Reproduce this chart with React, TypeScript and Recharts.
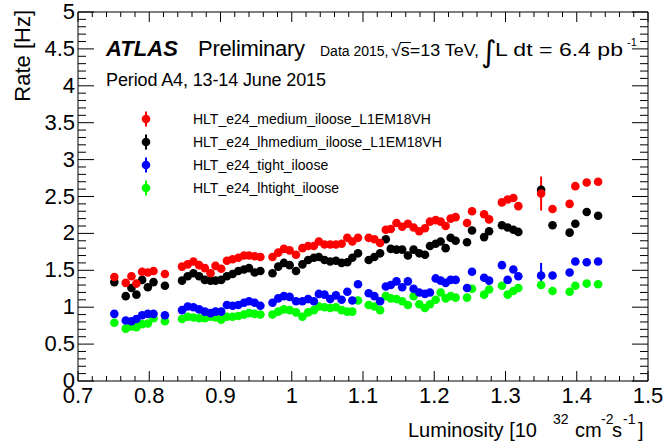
import React from 'react';
import { ScatterChart, Scatter, XAxis, YAxis, ErrorBar } from 'recharts';

// luminosity blocks [10^32 cm^-2 s^-1], shared by all triggers
const lumi = [
  0.751, 0.767, 0.775, 0.782, 0.790, 0.798, 0.806, 0.822,
  0.846, 0.854, 0.862, 0.870, 0.878, 0.886, 0.893, 0.901, 0.909, 0.917, 0.925, 0.933, 0.940, 0.948, 0.956,
  0.973, 0.981, 0.989, 0.997, 1.006, 1.015, 1.023, 1.031, 1.038, 1.046, 1.054, 1.062, 1.070, 1.078, 1.085, 1.093,
  1.108, 1.116, 1.124, 1.132, 1.139, 1.147, 1.155, 1.163, 1.171, 1.179, 1.187, 1.194, 1.202, 1.209, 1.216, 1.223, 1.230,
  1.246, 1.253, 1.270, 1.277, 1.295, 1.303, 1.311, 1.318,
  1.350, 1.366, 1.390, 1.398, 1.414, 1.430,
];

// rates [Hz]
const rateMedium = [
  1.41, 1.33, 1.42, 1.32, 1.48, 1.47, 1.49, 1.45,
  1.55, 1.58, 1.62, 1.57, 1.53, 1.46, 1.56, 1.52, 1.63, 1.65, 1.67, 1.70, 1.70, 1.69, 1.68,
  1.68, 1.74, 1.79, 1.77, 1.71, 1.80, 1.83, 1.83, 1.89, 1.85, 1.85, 1.85, 1.86, 1.94, 1.89, 1.94,
  1.94, 1.92, 1.87, 2.05, 2.06, 2.14, 2.09, 2.13, 2.08, 2.03, 2.07, 2.16, 2.18, 2.16, 2.10, 2.20, 2.22,
  2.14, 2.30, 2.26, 2.19, 2.42, 2.46, 2.48, 2.37,
  2.54, 2.33, 2.40, 2.64, 2.69, 2.70,
];
const rateLhMedium = [
  1.34, 1.15, 1.26, 1.17, 1.37, 1.27, 1.34, 1.29,
  1.36, 1.42, 1.46, 1.42, 1.37, 1.36, 1.36, 1.37, 1.42, 1.45, 1.49, 1.51, 1.53, 1.47, 1.49,
  1.46, 1.55, 1.60, 1.57, 1.49, 1.58, 1.64, 1.67, 1.68, 1.64, 1.62, 1.63, 1.60, 1.61, 1.67, 1.73,
  1.64, 1.68, 1.73, 1.92, 1.79, 1.78, 1.78, 1.70, 1.78, 1.73, 1.71, 1.83, 1.86, 1.89, 1.80, 1.94, 1.90,
  1.88, 2.04, 1.95, 2.03, 2.11, 2.08, 2.05, 2.02,
  2.59, 2.11, 2.01, 2.13, 2.29, 2.24,
];
const rateTight = [
  0.91, 0.82, 0.81, 0.84, 0.89, 0.91, 0.91, 0.89,
  0.96, 1.01, 1.00, 0.97, 0.94, 0.92, 0.94, 0.94, 1.03, 1.02, 1.03, 1.06, 1.08, 1.06, 1.02,
  1.06, 1.12, 1.15, 1.14, 1.08, 1.08, 1.11, 1.08, 1.18, 1.17, 1.11, 1.16, 1.10, 1.21, 1.09, 1.31,
  1.19, 1.15, 1.08, 1.28, 1.30, 1.35, 1.27, 1.35, 1.25, 1.20, 1.18, 1.20, 1.39, 1.36, 1.33, 1.37, 1.37,
  1.26, 1.48, 1.40, 1.36, 1.57, 1.37, 1.51, 1.42,
  1.43, 1.43, 1.47, 1.62, 1.61, 1.62,
];
const rateLhTight = [
  0.79, 0.71, 0.74, 0.73, 0.77, 0.78, 0.85, 0.81,
  0.84, 0.87, 0.86, 0.85, 0.85, 0.87, 0.86, 0.83, 0.87, 0.87, 0.88, 0.90, 0.92, 0.91, 0.90,
  0.90, 0.94, 0.97, 0.96, 0.93, 0.87, 0.93, 0.96, 1.01, 1.00, 0.99, 1.00, 0.96, 0.94, 0.94, 1.09,
  1.03, 1.01, 0.96, 1.15, 1.12, 1.11, 1.08, 1.03, 1.15, 1.04, 0.99, 1.04, 1.10, 1.20, 1.12, 1.15, 1.13,
  1.13, 1.25, 1.17, 1.24, 1.29, 1.17, 1.22, 1.26,
  1.30, 1.22, 1.21, 1.29, 1.32, 1.31,
];

// only the error bars that stick out of the markers: [point index, half length]
const errMedium: [number, number][] = [[64, 0.23]];
const errTight: [number, number][] = [[64, 0.17]];

const xMajor = [0.7, 0.8, 0.9, 1.0, 1.1, 1.2, 1.3, 1.4, 1.5];
const xLabels = ['0.7', '0.8', '0.9', '1', '1.1', '1.2', '1.3', '1.4', '1.5'];
const yMajor = [0, 0.5, 1, 1.5, 2, 2.5, 3, 3.5, 4, 4.5, 5];
const yLabels = ['0', '0.5', '1', '1.5', '2', '2.5', '3', '3.5', '4', '4.5', '5'];

const FONT = '"Liberation Sans", Arial, Helvetica, sans-serif';
const W = 663;
const H = 448;
// plot frame: x 78..648, y 12..381 (axes take 1px each)
const M = { top: 11, right: 14, bottom: 66, left: 77 };
const PT = 12;
const PB = 381;
const PL = 78;
const PR = 648;

// minor ticks every 0.02 on x, 0.1 on y
const xTicks = Array.from({ length: 41 }, (_, i) => Math.round((0.7 + i * 0.02) * 100) / 100);
const yTicks = Array.from({ length: 51 }, (_, i) => i / 10);

const majorIdx = (list: number[], v: number) => list.findIndex((m) => Math.abs(m - v) < 1e-6);

const XTickBottom = (props: any) => {
  const { x, payload } = props;
  const k = majorIdx(xMajor, payload.value);
  return (
    <g>
      <line x1={x} x2={x} y1={PB} y2={PB - (k >= 0 ? 10 : 5)} stroke="#000" />
      {k >= 0 && (
        <text x={x} y={PB + 22} textAnchor="middle" fontSize={22} fontFamily={FONT} fill="#000">
          {xLabels[k]}
        </text>
      )}
    </g>
  );
};

const XTickTop = (props: any) => {
  const { x, payload } = props;
  const k = majorIdx(xMajor, payload.value);
  return <line x1={x} x2={x} y1={PT} y2={PT + (k >= 0 ? 10 : 5)} stroke="#000" />;
};

const YTickLeft = (props: any) => {
  const { y, payload } = props;
  const k = majorIdx(yMajor, payload.value);
  return (
    <g>
      <line x1={PL} x2={PL + (k >= 0 ? 16 : 8)} y1={y} y2={y} stroke="#000" />
      {k >= 0 && (
        <text x={PL - 3} y={y + 7} textAnchor="end" fontSize={22} fontFamily={FONT} fill="#000">
          {yLabels[k]}
        </text>
      )}
    </g>
  );
};

const YTickRight = (props: any) => {
  const { y, payload } = props;
  const k = majorIdx(yMajor, payload.value);
  return <line x1={PR} x2={PR - (k >= 0 ? 16 : 8)} y1={y} y2={y} stroke="#000" />;
};

const build = (rates: number[], errs: [number, number][]) =>
  lumi.map((x, i) => {
    const e = errs.find((p) => p[0] === i);
    return { x, y: rates[i], err: e ? e[1] : 0 };
  });

const dot = (color: string) => (p: any) => <circle cx={p.cx} cy={p.cy} r={4.3} fill={color} />;

const series = [
  { name: 'HLT_e24_medium_iloose_L1EM18VH', color: '#ff0000' },
  { name: 'HLT_e24_lhmedium_iloose_L1EM18VH', color: '#000000' },
  { name: 'HLT_e24_tight_iloose', color: '#0000ff' },
  { name: 'HLT_e24_lhtight_iloose', color: '#00ff00' },
];

export default function App() {
  const dMedium = build(rateMedium, errMedium);
  const dLhMedium = build(rateLhMedium, []);
  const dTight = build(rateTight, errTight);
  const dLhTight = build(rateLhTight, []);

  return (
    <div style={{ position: 'absolute', left: 0, top: 0, width: W, height: H, background: '#fff' }}>
      <ScatterChart width={W} height={H} margin={M}>
        <XAxis xAxisId="b" type="number" dataKey="x" domain={[0.7, 1.5]} ticks={xTicks} interval={0}
          tick={XTickBottom} tickLine={false} tickSize={0} tickMargin={0} height={1}
          allowDataOverflow axisLine={{ stroke: '#000' }} />
        <XAxis xAxisId="t" orientation="top" type="number" dataKey="x" domain={[0.7, 1.5]} ticks={xTicks}
          interval={0} tick={XTickTop} tickLine={false} tickSize={0} tickMargin={0} height={1}
          allowDataOverflow axisLine={{ stroke: '#000' }} />
        <YAxis yAxisId="l" type="number" dataKey="y" domain={[0, 5]} ticks={yTicks} interval={0}
          tick={YTickLeft} tickLine={false} tickSize={0} tickMargin={0} width={1}
          allowDataOverflow axisLine={{ stroke: '#000' }} />
        <YAxis yAxisId="r" orientation="right" type="number" dataKey="y" domain={[0, 5]} ticks={yTicks}
          interval={0} tick={YTickRight} tickLine={false} tickSize={0} tickMargin={0} width={1}
          allowDataOverflow axisLine={{ stroke: '#000' }} />
        {/* hidden copy on the top/right axes so they get a domain */}
        <Scatter xAxisId="t" yAxisId="r" data={dTight} shape={() => <g />} isAnimationActive={false} />
        <Scatter xAxisId="b" yAxisId="l" data={dLhMedium} shape={dot('#000000')} isAnimationActive={false} />
        <Scatter xAxisId="b" yAxisId="l" data={dMedium} shape={dot('#ff0000')} isAnimationActive={false}>
          <ErrorBar dataKey="err" direction="y" width={0} stroke="#ff0000" strokeWidth={2} />
        </Scatter>
        <Scatter xAxisId="b" yAxisId="l" data={dLhTight} shape={dot('#00ff00')} isAnimationActive={false} />
        <Scatter xAxisId="b" yAxisId="l" data={dTight} shape={dot('#0000ff')} isAnimationActive={false}>
          <ErrorBar dataKey="err" direction="y" width={0} stroke="#0000ff" strokeWidth={2} />
        </Scatter>
      </ScatterChart>

      <svg width={W} height={H} style={{ position: 'absolute', left: 0, top: 0, pointerEvents: 'none' }}
        fontFamily={FONT} fill="#000">
        <text x={106} y={56} fontSize={22} fontWeight="bold" fontStyle="italic" textLength={72}
          lengthAdjust="spacing">ATLAS</text>
        <text x={198} y={56} fontSize={22} textLength={107} lengthAdjust="spacing">Preliminary</text>

        <text x={320} y={56} fontSize={14}>Data 2015,</text>
        <text x={391} y={56} fontSize={17} textLength={88} lengthAdjust="spacingAndGlyphs">√s=13 TeV,</text>
        <line x1={400} x2={411} y1={42.5} y2={42.5} stroke="#000" strokeWidth={1} />
        <text x={481} y={62} fontSize={30} fontFamily='"DejaVu Sans", sans-serif'>∫</text>
        <text x={495} y={56} fontSize={18} textLength={128} lengthAdjust="spacingAndGlyphs">L dt = 6.4 pb</text>
        <text x={627} y={46} fontSize={11}>-1</text>

        <text x={106} y={86} fontSize={18} textLength={220} lengthAdjust="spacing">
          Period A4, 13-14 June 2015
        </text>

        {series.map((s, i) => (
          <g key={s.name}>
            <line x1={146} x2={146} y1={119 + i * 23 - 7.5} y2={119 + i * 23 + 7.5} stroke={s.color} strokeWidth={2} />
            <circle cx={146} cy={119 + i * 23} r={4.3} fill={s.color} />
            <text x={193} y={119 + i * 23 + 5} fontSize={14}>{s.name}</text>
          </g>
        ))}

        <text transform="rotate(-90)" x={-10} y={30} textAnchor="end" fontSize={22}>Rate [Hz]</text>

        <text x={408} y={437} fontSize={20}>Luminosity [10</text>
        <text x={553} y={424} fontSize={14}>32</text>
        <text x={575} y={437} fontSize={20}>cm</text>
        <text x={601} y={424} fontSize={14}>-2</text>
        <text x={612} y={437} fontSize={20}>s</text>
        <text x={623} y={424} fontSize={14}>-1</text>
        <text x={638} y={437} fontSize={20}>]</text>
      </svg>
    </div>
  );
}
